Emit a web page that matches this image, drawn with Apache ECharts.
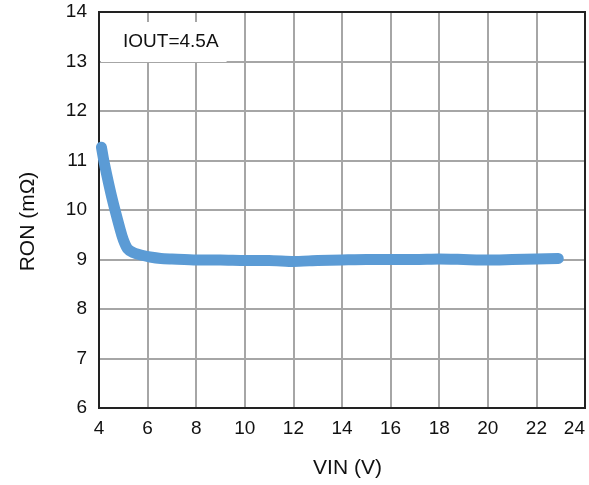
<!DOCTYPE html>
<html>
<head>
<meta charset="utf-8">
<script src="https://cdn.jsdelivr.net/npm/echarts@6/dist/echarts.min.js"></script>
<style>
html,body{margin:0;padding:0;background:#fff;}
#c{width:589px;height:485px;}
</style>
</head>
<body>
<div id="c"></div>
<script>
var vin = [4.1, 4.22, 4.52, 4.88, 5.0, 5.17, 5.4, 5.72, 6.1, 6.55, 7, 8, 9, 10, 11, 12, 13, 14, 15, 16, 17, 18, 19, 20, 21, 22, 22.9];
var ron = [11.27, 10.94, 10.27, 9.59, 9.40, 9.22, 9.14, 9.09, 9.05, 9.02, 9.01, 8.99, 8.99, 8.98, 8.98, 8.96, 8.98, 8.99, 9.0, 9.0, 9.0, 9.01, 9.0, 8.99, 9.0, 9.01, 9.02];
var xTicks = [4, 6, 8, 10, 12, 14, 16, 18, 20, 22, 24];
var yTicks = [6, 7, 8, 9, 10, 11, 12, 13, 14];
var label = 'IOUT=4.5A';
var xName = 'VIN (V)';
var yName = 'RON (mΩ)';

var font = "'Liberation Sans', Arial, sans-serif";
var pts = vin.map(function (v, i) { return [v, ron[i]]; });

var chart = echarts.init(document.getElementById('c'), null, {renderer: 'canvas'});
chart.setOption({
  animation: false,
  backgroundColor: '#fff',
  title: {
    text: label,
    left: 101, top: 22,
    backgroundColor: '#fff',
    padding: [10, 8, 10, 22],
    textStyle: {fontFamily: font, fontSize: 19, fontWeight: 'normal', color: '#111', lineHeight: 20}
  },
  grid: {left: 99, right: 4, top: 12, bottom: 77, show: true, borderColor: '#222', borderWidth: 2, z: 3,
         containLabel: false, outerBoundsMode: 'none'},
  xAxis: {
    type: 'value', min: xTicks[0], max: xTicks[xTicks.length - 1], interval: 2,
    name: xName, nameLocation: 'middle', nameGap: 50,
    nameTextStyle: {fontFamily: font, fontSize: 21, color: '#111', padding: [0, 0, 0, 11]},
    axisLine: {show: true, lineStyle: {color: '#222', width: 2}},
    axisTick: {show: false},
    axisLabel: {fontFamily: font, fontSize: 19, color: '#111', margin: 11, alignMaxLabel: 'right'},
    splitLine: {show: true, lineStyle: {color: '#a6a6a6', width: 2}}
  },
  yAxis: {
    type: 'value', min: yTicks[0], max: yTicks[yTicks.length - 1], interval: 1,
    name: yName, nameLocation: 'middle', nameGap: 60,
    nameTextStyle: {fontFamily: font, fontSize: 21, color: '#111', padding: [0, 23, 0, 0]},
    axisLine: {show: true, lineStyle: {color: '#222', width: 2}},
    axisTick: {show: false},
    axisLabel: {fontFamily: font, fontSize: 19, color: '#111', margin: 12},
    splitLine: {show: true, lineStyle: {color: '#a6a6a6', width: 2}}
  },
  series: [{
    type: 'line',
    data: pts,
    smooth: 0.2,
    showSymbol: false,
    clip: true,
    lineStyle: {color: '#5B9BD5', width: 11, cap: 'round', join: 'round'}
  }]
});
</script>
</body>
</html>
